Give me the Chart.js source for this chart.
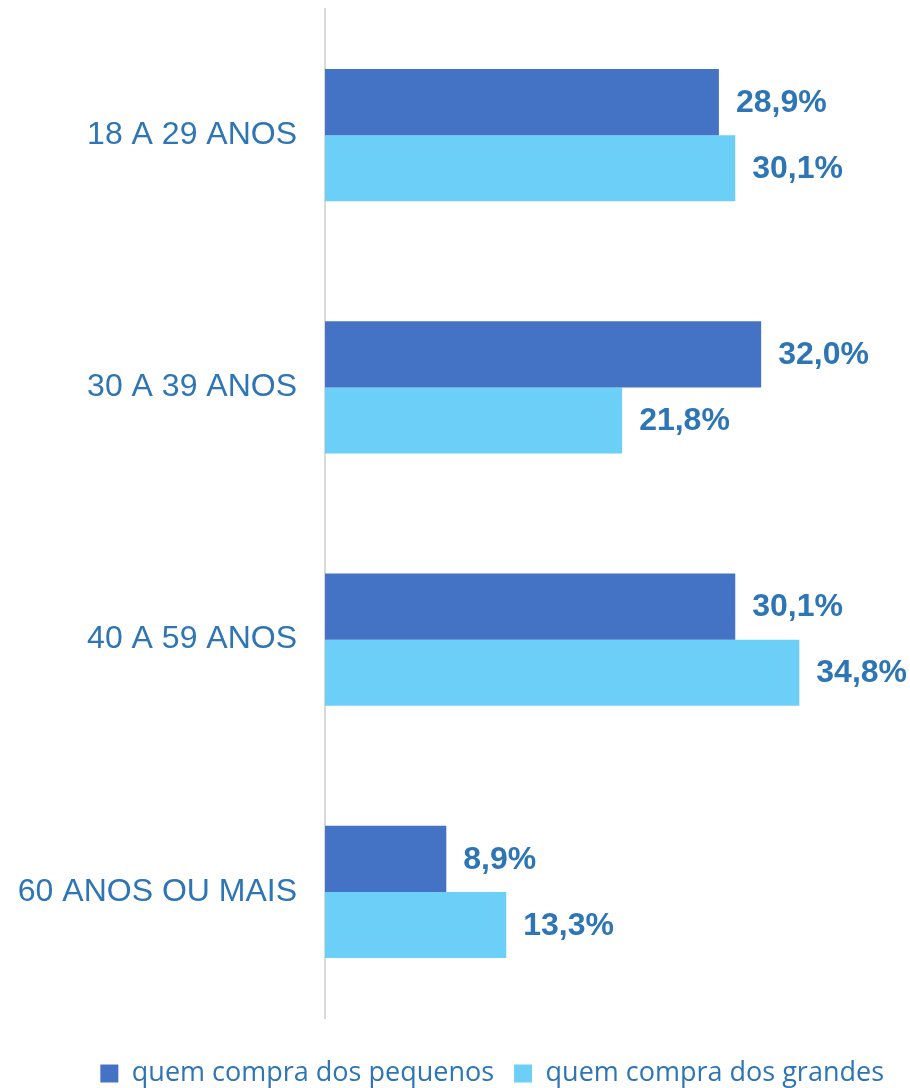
<!DOCTYPE html>
<html><head><meta charset="utf-8">
<script src="https://cdn.jsdelivr.net/npm/chart.js@4.4.1/dist/chart.umd.min.js"></script>
<style>html,body{margin:0;padding:0;background:#fff;}#wrap{width:910px;height:1088px;position:relative;}</style>
</head><body><div id="wrap"><canvas id="c"></canvas></div>
<script>
const categories = ["18 A 29 ANOS", "30 A 39 ANOS", "40 A 59 ANOS", "60 ANOS OU MAIS"];
const seriesNames = ["quem compra dos pequenos", "quem compra dos grandes"];
const pequenos = [28.9, 32.0, 30.1, 8.9];
const grandes = [30.1, 21.8, 34.8, 13.3];
const colors = ["#4472C4", "#6BCFF8"];
const textBlue = "#2E75B6";

const labelPlugin = {
  id: 'valueLabels',
  afterDatasetsDraw(chart) {
    const ctx = chart.ctx;
    ctx.save();
    ctx.font = "bold 32px 'Liberation Sans', Arial, sans-serif";
    ctx.fillStyle = textBlue;
    ctx.textAlign = 'left';
    ctx.textBaseline = 'middle';
    chart.data.datasets.forEach((ds, i) => {
      chart.getDatasetMeta(i).data.forEach((bar, j) => {
        const t = ds.data[j].toFixed(1).replace('.', ',') + '%';
        ctx.fillText(t, bar.x + 17, bar.y + 1);
      });
    });
    ctx.restore();
  }
};

new Chart(document.getElementById('c'), {
  type: 'bar',
  data: {
    labels: categories,
    datasets: [
      { label: seriesNames[0], data: pequenos, backgroundColor: colors[0], categoryPercentage: 0.524, barPercentage: 1.0 },
      { label: seriesNames[1], data: grandes, backgroundColor: colors[1], categoryPercentage: 0.524, barPercentage: 1.0 }
    ]
  },
  options: {
    indexAxis: 'y',
    responsive: true,
    maintainAspectRatio: false,
    animation: false,
    layout: { padding: { left: 0, right: 6, top: 9, bottom: -9 } },
    scales: {
      x: {
        display: true, min: 0, max: 42.48,
        ticks: { display: false },
        grid: { display: false, drawTicks: false },
        border: { display: false },
        afterFit(scale) { scale.height = 22; scale.paddingLeft = 0; scale.paddingRight = 0; }
      },
      y: {
        afterFit(scale) { scale.width = 325; scale.paddingTop = 0; scale.paddingBottom = 0; },
        grid: { display: false, drawTicks: false },
        border: { display: true, color: '#D9D9D9', width: 2 },
        ticks: { color: textBlue, font: { family: "'Liberation Sans', Arial, sans-serif", size: 32 }, padding: 28 }
      }
    },
    plugins: {
      tooltip: { enabled: false },
      legend: {
        position: 'bottom',
        align: 'end',
        labels: {
          boxWidth: 18, boxHeight: 18, padding: 20,
          color: textBlue,
          font: { family: "'Open Sans', sans-serif", size: 27 }
        }
      }
    }
  },
  plugins: [labelPlugin]
});
</script></body></html>
